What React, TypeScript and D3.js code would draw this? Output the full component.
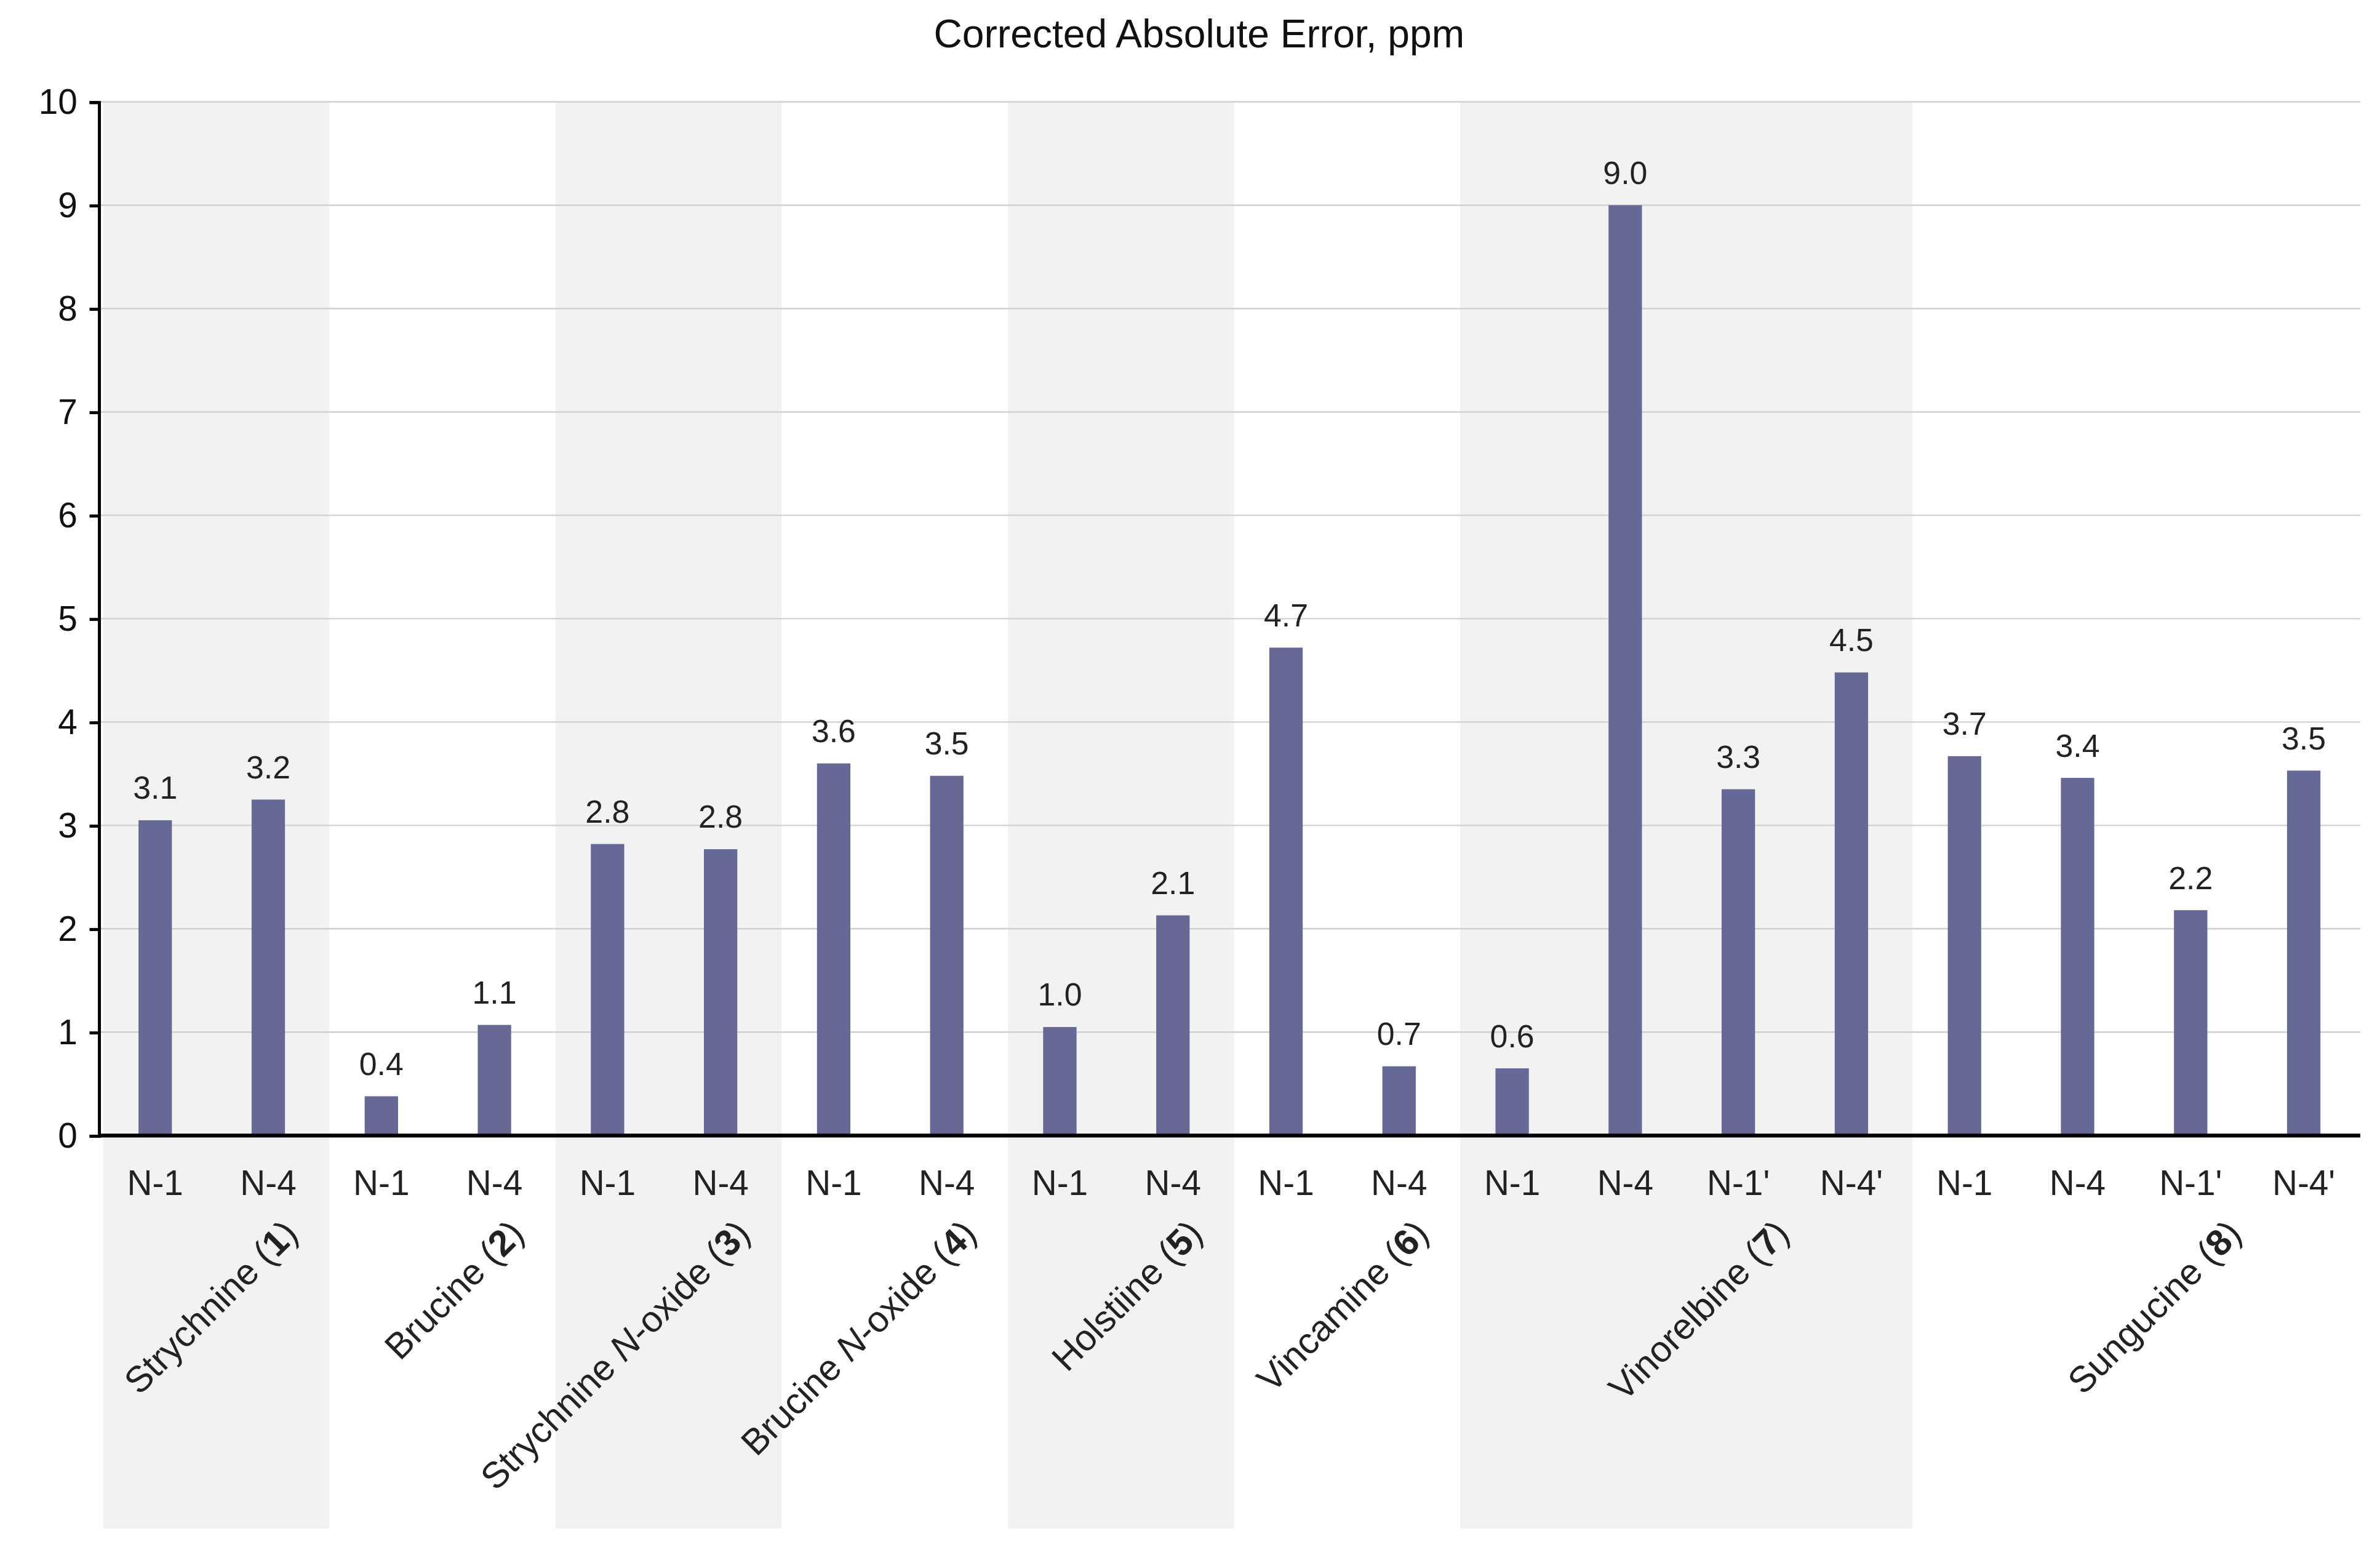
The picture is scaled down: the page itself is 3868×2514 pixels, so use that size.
import { useRef, useEffect } from "react";
import * as d3 from "d3";

const ticks = ["N-1","N-4","N-1","N-4","N-1","N-4","N-1","N-4","N-1","N-4","N-1","N-4","N-1","N-4","N-1'","N-4'","N-1","N-4","N-1'","N-4'"];
const values = [3.05,3.25,0.38,1.07,2.82,2.77,3.6,3.48,1.05,2.13,4.72,0.67,0.65,9.0,3.35,4.48,3.67,3.46,2.18,3.53];
const valueLabels = ["3.1","3.2","0.4","1.1","2.8","2.8","3.6","3.5","1.0","2.1","4.7","0.7","0.6","9.0","3.3","4.5","3.7","3.4","2.2","3.5"];
// group names ("|" toggles italic), first index, count
const groupNames = ["Strychnine", "Brucine", "Strychnine |N|-oxide", "Brucine |N|-oxide", "Holstiine", "Vincamine", "Vinorelbine", "Sungucine"];
const groupStarts = [0, 2, 4, 6, 8, 10, 12, 16];
const groupSizes = [2, 2, 2, 2, 2, 2, 4, 4];

export default function App() {
  const svgRef = useRef<SVGSVGElement>(null);

  useEffect(() => {
    if (!svgRef.current) return;
    const svg = d3.select(svgRef.current);
    svg.selectAll("*").remove();
    const W = 1568, H = 1019;
    svg.attr("viewBox", `0 0 ${W} ${H}`);
    const left = 65, right = 1555, top = 67, bottom = 748;

    const x = d3.scaleBand<number>().domain(d3.range(ticks.length)).range([left, right]);
    const y = d3.scaleLinear().domain([0, 10]).range([bottom, top]);
    const font = "Arial, 'Liberation Sans', sans-serif";

    // shaded bands for alternating groups
    groupStarts.forEach((s, i) => {
      if (i % 2 !== 0) return;
      svg.append("rect")
        .attr("x", x(s)! + 3)
        .attr("y", top)
        .attr("width", x.bandwidth() * groupSizes[i])
        .attr("height", 1007 - top)
        .attr("fill", "#f2f2f2");
    });

    // grid
    svg.selectAll(".grid").data(y.ticks(10).filter((d) => d > 0)).join("line")
      .attr("x1", left).attr("x2", right)
      .attr("y1", (d) => y(d)).attr("y2", (d) => y(d))
      .attr("stroke", "#d0d0d0").attr("stroke-width", 1);

    // bars
    const bw = 22;
    svg.selectAll(".bar").data(values).join("rect")
      .attr("x", (_, i) => x(i)! + x.bandwidth() / 2 - bw / 2)
      .attr("y", (d) => y(d))
      .attr("width", bw)
      .attr("height", (d) => bottom - y(d))
      .attr("fill", "#666896");

    svg.selectAll(".vl").data(values).join("text")
      .attr("x", (_, i) => x(i)! + x.bandwidth() / 2)
      .attr("y", (d) => y(d) - 14)
      .attr("text-anchor", "middle")
      .attr("font-family", font).attr("font-size", 21).attr("fill", "#222")
      .text((_, i) => valueLabels[i]);

    // axes
    const ya = svg.append("g").attr("transform", `translate(${left},0)`)
      .call(d3.axisLeft(y).ticks(10).tickSize(6).tickPadding(8));
    ya.select(".domain").attr("stroke", "#000").attr("stroke-width", 2);
    ya.selectAll(".tick line").attr("stroke", "#000").attr("stroke-width", 2);
    ya.selectAll("text").attr("font-family", font).attr("font-size", 23).attr("fill", "#111");

    svg.append("line").attr("x1", left).attr("x2", right).attr("y1", bottom).attr("y2", bottom)
      .attr("stroke", "#000").attr("stroke-width", 2.5);

    svg.selectAll(".tl").data(ticks).join("text")
      .attr("x", (_, i) => x(i)! + x.bandwidth() / 2)
      .attr("y", 787)
      .attr("text-anchor", "middle")
      .attr("font-family", font).attr("font-size", 23).attr("fill", "#222")
      .text((d) => d);

    // group labels
    groupNames.forEach((name, i) => {
      const cx = x(groupStarts[i])! + (x.bandwidth() * groupSizes[i]) / 2;
      const offset = groupSizes[i] === 4 ? 72 : 58;
      const t = svg.append("text")
        .attr("transform", `translate(${cx + offset},${814}) rotate(-45)`)
        .attr("text-anchor", "end")
        .attr("font-family", font).attr("font-size", 24).attr("fill", "#222");
      name.split("|").forEach((part, k) => {
        t.append("tspan").attr("font-style", k === 1 ? "italic" : "normal").text(part);
      });
      t.append("tspan").text(" (");
      t.append("tspan").attr("font-weight", "bold").text(String(i + 1));
      t.append("tspan").text(")");
    });

    svg.append("text")
      .attr("x", 790).attr("y", 31)
      .attr("text-anchor", "middle")
      .attr("font-family", font).attr("font-size", 26).attr("fill", "#111")
      .text("Corrected Absolute Error, ppm");
  }, []);

  return (
    <div style={{ position: "absolute", left: 0, top: 0, width: 3868, height: 2514, background: "#fff" }}>
      <svg ref={svgRef} width={3868} height={2514} style={{ display: "block" }} />
    </div>
  );
}
